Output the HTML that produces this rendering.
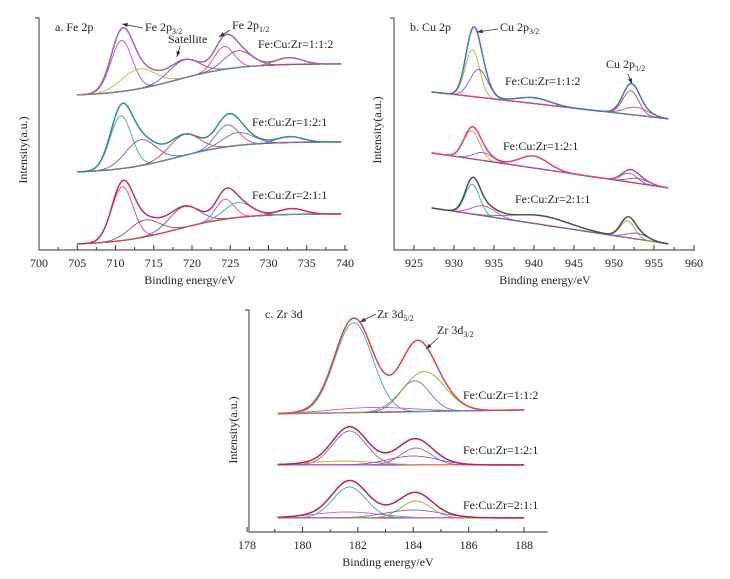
<!DOCTYPE html>
<html><head><meta charset="utf-8"><style>
html,body{margin:0;padding:0;background:#fff;}
svg{display:block;font-family:"Liberation Serif",serif;}
</style></head><body>
<svg id="fig" width="730" height="579" viewBox="0 0 730 579" xmlns="http://www.w3.org/2000/svg"></svg>
<script>
// ---------- DATA ----------
// Panel a: Fe 2p  (energies eV, heights a.u.)
const feRatios = ["Fe:Cu:Zr=1:1:2","Fe:Cu:Zr=1:2:1","Fe:Cu:Zr=2:1:1"];
const feBaseLeft = [155, 78, 6];
const feBaseRight = [186, 108, 36];
const feCenters = [[710.8,713.0,719.0,724.2,726.0,732.7],[710.7,713.3,719.0,724.6,726.0,732.8],[710.9,713.8,719.0,724.3,726.0,733.0]];
const feHeights = [[51,20,18,23,17,7],[53,26,21,22,13,6],[54,17,21,20,15,6]];
const feSigmas = [[1.4,2.2,2.0,1.3,1.8,1.7],[1.4,2.0,2.0,1.5,2.0,1.7],[1.4,2.0,2.0,1.2,1.8,1.7]];
const feColors = [["#b050b0","#f0a040","#6060c0","#e04090","#a05080","#40a080"],["#30b0a0","#6060d0","#e04040","#8060d0","#9060a0","#40a080"],["#e040a0","#905060","#6060b0","#d050d0","#30b090","#e04040"]];
const feEnvColors = ["#9a6aa0","#3a8a8a","#c03060"];
// Panel b: Cu 2p
const cuBaseLeft = [158, 97, 42];
const cuBaseRight = [131, 62, 6];
const cuCenters = [[932.3,933.1,940.0,952.1,952.8],[932.2,933.6,940.0,951.9,953.0],[932.3,933.7,941.0,951.7,952.9]];
const cuHeights = [[47,28,6,24,8],[28,8,12,9,5],[30,10,9,17,6]];
const cuSigmas = [[0.9,1.1,2.0,1.0,1.5],[1.0,1.2,1.8,1.0,1.3],[0.9,1.5,3.5,0.9,1.3]];
const cuColors = [["#b0b040","#8060b0","#40a060","#a05080","#e04080"],["#f09030","#9060c0","#e04040","#6060c0","#9060a0"],["#30b0b0","#d040c0","#808080","#a0a040","#6060c0"]];
const cuEnvColors = ["#4a70c0","#e04080","#505050"];
// Panel c: Zr 3d
const zrBaseLeft = [118, 67, 14];
const zrBaseRight = [122, 67, 14];
const zrCenters = [[181.85,182.5,184.05,184.4],[181.7,181.5,184.1,184.0],[181.7,181.6,184.1,184.0]];
const zrHeights = [[90,5,31,40],[34,4,17,9],[31,6,17,8]];
const zrSigmas = [[0.68,1.5,0.55,0.75],[0.6,1.2,0.55,0.9],[0.6,1.2,0.55,1.0]];
const zrColors = [["#30b0a0","#c060c0","#7070b0","#a0a040"],["#7070c0","#f09030","#9060d0","#8060c0"],["#30b0a0","#d060d0","#a0a040","#7070b0"]];
const zrEnvColors = ["#e04050","#c02050","#c02050"];
const feTicks = [700,705,710,715,720,725,730,735,740];
const cuTicks = [925,930,935,940,945,950,955,960];
const zrTicks = [178,180,182,184,186,188];

// ---------- DRAW ----------
const NS="http://www.w3.org/2000/svg";
const svg=document.getElementById('fig');
function mk(tag,attrs,parent){const e=document.createElementNS(NS,tag);for(const k in attrs)e.setAttribute(k,attrs[k]);(parent||svg).appendChild(e);return e;}
function gauss(x,c,h,s){return h*Math.exp(-0.5*((x-c)/s)**2);}

function panel(cfg){
  const g=mk('g',{});
  
  
  const X=e=>cfg.x0+(e-cfg.e0)*cfg.kx;
  const Y=v=>cfg.yb-v;
  // axes
  const ax=mk('path',{d:`M${cfg.x0-4},${cfg.yt}H${cfg.x0}V${cfg.yb}H${cfg.xend}`,fill:'none',stroke:'#333','stroke-width':1},g);
  
  
  cfg.ticks.forEach((t,i)=>{
    mk('line',{x1:X(t),x2:X(t),y1:cfg.yb,y2:cfg.yb-5,stroke:'#333'},g);
    if(i<cfg.ticks.length-1){const m=(t+cfg.ticks[i+1])/2;mk('line',{x1:X(m),x2:X(m),y1:cfg.yb,y2:cfg.yb-3,stroke:'#333'},g);}
    const tl=mk('text',{x:X(t),y:cfg.yb+17,'text-anchor':'middle','font-size':12,fill:'#222'},g);
    tl.textContent=t;
    
    
  });
  const xt=mk('text',{x:cfg.xtx,y:cfg.yb+34,'text-anchor':'middle','font-size':12,fill:'#222'},g);
  xt.textContent='Binding energy/eV';
  
  
  const yt=mk('text',{x:0,y:0,'text-anchor':'middle','font-size':12,fill:'#222',transform:`translate(${cfg.ylx},${cfg.yly}) rotate(-90)`},g);
  yt.textContent='Intensity(a.u.)';
  
  
  // spectra
  for(let s=0;s<3;s++){
    const bl=cfg.bL[s], br=cfg.bR[s];
    const base=e=>{
      const f=(e-cfg.emin)/(cfg.emax-cfg.emin);
      if(cfg.shirley){const sg=1/(1+Math.exp(-(e-cfg.shC)/cfg.shW));const s0=1/(1+Math.exp(-(cfg.emin-cfg.shC)/cfg.shW));const s1=1/(1+Math.exp(-(cfg.emax-cfg.shC)/cfg.shW));return bl+(br-bl)*(sg-s0)/(s1-s0);}
      return bl+(br-bl)*f;
    };
    const N=240;
    const pts=[];for(let i=0;i<=N;i++)pts.push(cfg.emin+(cfg.emax-cfg.emin)*i/N);
    const line=(fn,col,w,name)=>{
      const d=pts.map((e,i)=>(i?'L':'M')+X(e).toFixed(1)+','+Y(fn(e)).toFixed(1)).join('');
      const p=mk('path',{d,fill:'none',stroke:col,'stroke-width':w},g);
      
      
    };
    line(base,'#3050a0',1,'baseline');
    line(e=>base(e)+0.5,'#e04080',0.8,'background');
    cfg.C[s].forEach((c,k)=>{line(e=>base(e)+gauss(e,c,cfg.H[s][k],cfg.S[s][k]),cfg.col[s][k],0.9,'component-peak');});
    line(e=>{let v=base(e);cfg.C[s].forEach((c,k)=>v+=gauss(e,c,cfg.H[s][k],cfg.S[s][k]));return v;},cfg.env[s],1.5,'envelope-fit');
    const lab=mk('text',{x:cfg.labX[s],y:cfg.labY[s],'font-size':12,fill:'#222'},g);
    lab.textContent=cfg.ratios[s];
    
    
  }
  return g;
}
function ann(x,y,main,sub,ax1,ay1,ax2,ay2,name){
  const t=mk('text',{x,y,'font-size':12,fill:'#222'});
  
  
  t.appendChild(document.createTextNode(main));
  if(sub){const ts=mk('tspan',{'font-size':8,dy:3},t);ts.textContent=sub;}
  if(ax1!=null){
    mk('line',{x1:ax1,y1:ay1,x2:ax2,y2:ay2,stroke:'#333','stroke-width':0.8});
    const a=Math.atan2(ay2-ay1,ax2-ax1);
    const p=[[ax2,ay2],[ax2-6*Math.cos(a-0.35),ay2-6*Math.sin(a-0.35)],[ax2-6*Math.cos(a+0.35),ay2-6*Math.sin(a+0.35)]];
    mk('polygon',{points:p.map(q=>q.join(',')).join(' '),fill:'#333'});
  }
}
panel({name:'fe-2p-panel',x0:39,e0:700,kx:7.65,yt:18,yb:250,xend:348,ticks:feTicks,xtx:190,ylx:27,yly:150,
  emin:705,emax:739.5,shirley:true,shC:718,shW:4,bL:feBaseLeft,bR:feBaseRight,C:feCenters,H:feHeights,S:feSigmas,col:feColors,env:feEnvColors,
  ratios:feRatios,labX:[258,252,252],labY:[48,126,199]});
panel({name:'cu-2p-panel',x0:394,e0:922.5,kx:8,yt:18,yb:250,xend:695,ticks:cuTicks,xtx:545,ylx:381,yly:130,
  emin:927.2,emax:956.8,shirley:false,bL:cuBaseLeft,bR:cuBaseRight,C:cuCenters,H:cuHeights,S:cuSigmas,col:cuColors,env:cuEnvColors,
  ratios:feRatios,labX:[505,503,515],labY:[85,150,203]});
panel({name:'zr-3d-panel',x0:249,e0:178.07,kx:27.7,yt:310,yb:532,xend:548,ticks:zrTicks,xtx:388,ylx:237,yly:430,
  emin:179.1,emax:188,shirley:false,bL:zrBaseLeft,bR:zrBaseRight,C:zrCenters,H:zrHeights,S:zrSigmas,col:zrColors,env:zrEnvColors,
  ratios:feRatios,labX:[463,463,463],labY:[399,454,509]});
ann(55,31,'a. Fe 2p','',null,0,0,0,'panel-a-title');
ann(145,31,'Fe 2p','3/2',143,28,122,24,'fe-2p32-label');
ann(168,43,'Satellite','',180,46,177,57,'satellite-label');
ann(232,29,'Fe 2p','1/2',230,30,219,37,'fe-2p12-label');
ann(410,31,'b. Cu 2p','',null,0,0,0,'panel-b-title');
ann(500,31,'Cu 2p','3/2',498,29,477,32,'cu-2p32-label');
ann(606,68,'Cu 2p','1/2',628,74,632,84,'cu-2p12-label');
ann(265,318,'c. Zr 3d','',null,0,0,0,'panel-c-title');
ann(377,318,'Zr 3d','5/2',376,314,360,322,'zr-3d52-label');
ann(437,334,'Zr 3d','3/2',438,338,426,349,'zr-3d32-label');
</script>
</body></html>
